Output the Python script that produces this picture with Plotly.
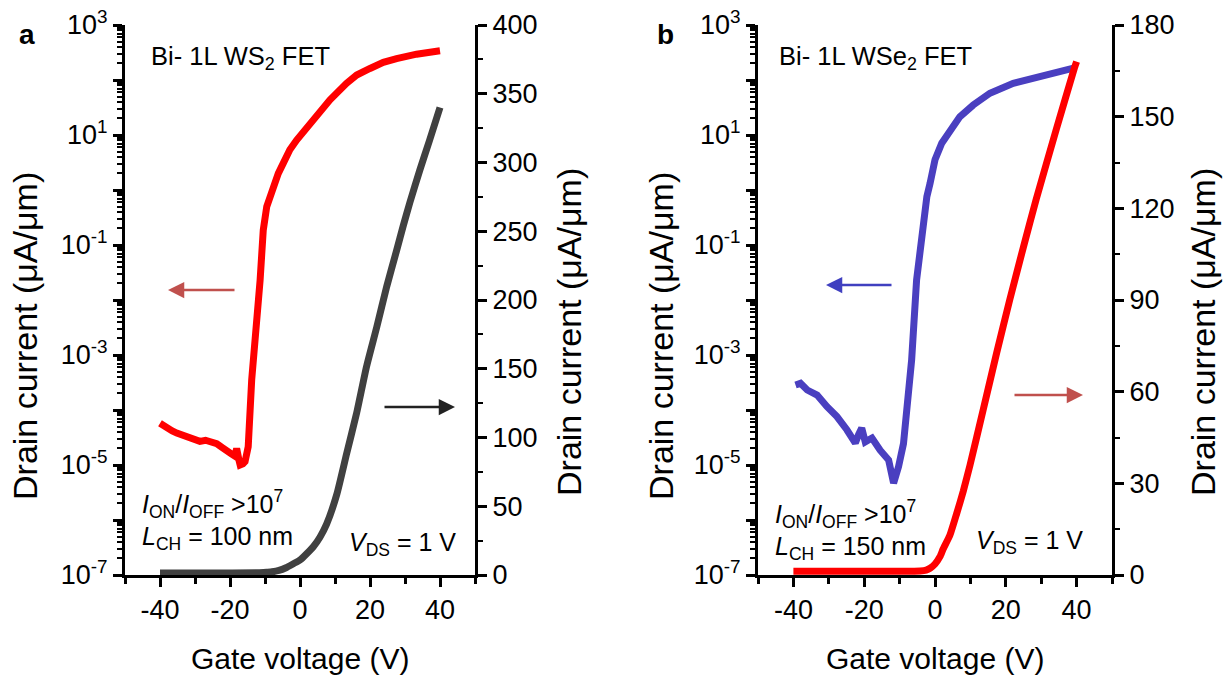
import plotly.graph_objects as go

# ---------------- data ----------------
# Panel a: Bi-contacted 1L WS2 FET
va_log = [-40, -38.1, -36.5, -35.2, -33.5, -31.4, -30, -28.6, -27, -25.7, -23.8, -22.3, -20.9,
          -19.5, -18.6, -18.1, -17.4, -17.1, -16.3, -15.7, -14.8, -13.8, -11.4, -10.95, -10.5,
          -9.5, -7.6, -6.2, -4.8, -2.9, -0.95, 0.95, 2.86, 5.7, 8.57, 13.3, 16.2, 20, 23.8, 27.6,
          33.3, 40]
ia_log = [5.75e-5, 4.68e-5, 4.17e-5, 3.8e-5, 3.47e-5, 3.24e-5, 3.02e-5, 2.69e-5, 2.82e-5, 2.63e-5,
          2.45e-5, 2.09e-5, 1.74e-5, 1.58e-5, 1.45e-5, 2.0e-5, 1.2e-5, 1.0e-5, 1.05e-5, 1.15e-5,
          2.14e-5, 3.55e-4, 0.0229, 0.0617, 0.186, 0.50, 1.15, 2.0, 3.05, 5.4, 8.1, 11.5, 16.2,
          26.3, 43.6, 87.1, 123, 162, 209, 245, 295, 339]

va_lin = [-40, -30, -20, -12, -9.5, -8, -6, -4, -1.9, 0, 1.9, 3.8, 5.7, 7.6, 10.5, 13.3, 16.2,
          19, 21.9, 24.8, 27.6, 29.5, 31.4, 34.3, 37, 40]
ia_lin = [1.5, 1.5, 1.5, 1.6, 2.0, 2.3, 3.3, 5.3, 8.2, 10.9, 15.5, 20.6, 27.5, 37.0, 58.5,
          88.0, 118, 151.5, 180, 210, 236, 254, 271, 295, 316, 340]

# Panel b: Bi-contacted 1L WSe2 FET
vb_log = [-39.4, -38, -36.1, -33.3, -30.5, -27.7, -24.9, -22.5, -21.6, -20.7, -19.7, -17.8,
          -15.5, -13.1, -11.7, -10.3, -8.9, -8.0, -6.6, -5.2, -4.2, -3.3, -2.3, -1.4, 0, 1.9,
          4.2, 7.0, 10.8, 15.5, 22.1, 29.6, 39.4]
ib_log = [2.85e-4, 3.05e-4, 2.31e-4, 1.87e-4, 1.15e-4, 7.59e-5, 4.37e-5, 2.51e-5, 3.55e-5,
          4.68e-5, 2.63e-5, 3.09e-5, 1.86e-5, 1.23e-5, 4.68e-6, 9.33e-6, 2.45e-5, 1.0e-4, 8.13e-4,
          0.0231, 0.0933, 0.324, 0.76, 1.32, 3.55, 7.08, 12.3, 21.4, 35.1, 57.5, 87.1, 117, 166]

vb_lin = [-40, -30, -20, -10, -4.2, -2.5, -1.4, 0, 1.4, 2.3, 4.2, 6.1, 8, 9.9, 13.6, 17.4,
          21.1, 24.9, 28.6, 34.3, 39.4, 40]
ib_lin = [1.2, 1.2, 1.2, 1.2, 1.3, 1.6, 2.2, 3.6, 6.0, 8.5, 13, 20, 27.5, 36, 54, 72.6,
          90, 107, 123, 146, 166, 168]

x_ticks = [-40, -20, 0, 20, 40]
x_ticktext = ["-40", "-20", "0", "20", "40"]
log_exps = list(range(-7, 4))
log_tickvals = [10.0 ** k for k in log_exps]
log_ticktext = [f"10<sup>{k}</sup>" if (k - 3) % 2 == 0 else "" for k in log_exps]
log_minor = [m * 10.0 ** k for k in range(-7, 3) for m in range(2, 10)]

# ---------------- figure ----------------
W, H = 1223, 676
FONT = "Liberation Sans, Arial, sans-serif"


def px_x(p):
    return p / W


def px_y(p):
    return 1 - p / H


dom_xa = [px_x(125), px_x(475)]
dom_xb = [px_x(758), px_x(1112)]
dom_y = [px_y(575), px_y(25)]

fig = go.Figure()
fig.add_trace(go.Scatter(x=va_log, y=ia_log, xaxis="x", yaxis="y", mode="lines",
                         line=dict(color="#ff0000", width=7), showlegend=False))
fig.add_trace(go.Scatter(x=va_lin, y=ia_lin, xaxis="x", yaxis="y2", mode="lines",
                         line=dict(color="#404040", width=7, shape="spline", smoothing=0.5),
                         showlegend=False))
fig.add_trace(go.Scatter(x=vb_log, y=ib_log, xaxis="x2", yaxis="y3", mode="lines",
                         line=dict(color="#4a3fc0", width=7), showlegend=False))
fig.add_trace(go.Scatter(x=vb_lin, y=ib_lin, xaxis="x2", yaxis="y4", mode="lines",
                         line=dict(color="#ff0000", width=7, shape="spline", smoothing=0.5),
                         showlegend=False))

tickfont = dict(family=FONT, size=27, color="black")
axline = dict(showline=True, linecolor="black", linewidth=3, showgrid=False, zeroline=False,
              ticks="outside", tickcolor="black", tickwidth=3, ticklen=9, tickfont=tickfont,
              automargin=False)


def xaxis(domain, anchor):
    return dict(domain=domain, anchor=anchor, range=[-50, 50], tickmode="array",
                tickvals=x_ticks, ticktext=x_ticktext,
                minor=dict(tickmode="array", tickvals=[-50, -30, -10, 10, 30, 50],
                           ticks="outside", ticklen=6, tickwidth=3, tickcolor="black"),
                **axline)


def xtop(over, anchor):
    return dict(overlaying=over, anchor=anchor, side="top", range=[-50, 50], tickmode="linear",
                tick0=0, dtick=10, showticklabels=False, showline=True, linecolor="black",
                linewidth=3, ticks="outside", ticklen=4, tickwidth=2.5, tickcolor="black",
                showgrid=False, zeroline=False, automargin=False)


def ylog(anchor):
    return dict(type="log", domain=dom_y, anchor=anchor, range=[-7, 3], tickmode="array",
                tickvals=log_tickvals, ticktext=log_ticktext,
                minor=dict(tickmode="array", tickvals=log_minor, ticks="outside", ticklen=5,
                           tickwidth=2, tickcolor="black"),
                **axline)


def ylin(over, anchor, top, step):
    return dict(overlaying=over, anchor=anchor, side="right", range=[0, top], tickmode="linear",
                tick0=0, dtick=step,
                minor=dict(tickmode="linear", tick0=0, dtick=step / 2, ticks="outside",
                           ticklen=5, tickwidth=2, tickcolor="black"),
                **axline)


fig.update_layout(
    template="none",
    width=W, height=H, autosize=False,
    margin=dict(l=0, r=0, t=0, b=0, pad=0, autoexpand=False),
    paper_bgcolor="white", plot_bgcolor="white",
    font=dict(family=FONT, color="black"),
    xaxis=xaxis(dom_xa, "y"),
    xaxis2=xaxis(dom_xb, "y3"),
    xaxis3=xtop("x", "y"),
    xaxis4=xtop("x2", "y3"),
    yaxis=ylog("x"),
    yaxis2=ylin("y", "x", 400, 50),
    yaxis3=ylog("x2"),
    yaxis4=ylin("y3", "x2", 180, 30),
)

ann = []


def text(xp, yp, s, size, anchor="left", angle=0, bold=False):
    ann.append(dict(x=px_x(xp), y=px_y(yp), xref="paper", yref="paper", text=s,
                    showarrow=False, xanchor=anchor, yanchor="middle", textangle=angle,
                    align="left",
                    font=dict(family=FONT, size=size, color="black",
                              weight="bold" if bold else "normal")))


text(27, 34, "a", 28, "center", bold=True)
text(665, 34, "b", 28, "center", bold=True)
text(149, 58, "Bi- 1L WS<sub>2</sub> FET", 25.5)
text(777, 58, "Bi- 1L WSe<sub>2</sub> FET", 25.5)

ratio = "<i>I</i><sub>ON</sub>/<i>I</i><sub>OFF</sub> >10<sup>7</sup>"
text(140, 520, ratio + "<br><i>L</i><sub>CH</sub> = 100 nm", 25)
text(347, 544, "<i>V</i><sub>DS</sub> = 1 V", 25)
text(773, 530, ratio + "<br><i>L</i><sub>CH</sub> = 150 nm", 25)
text(974, 542, "<i>V</i><sub>DS</sub> = 1 V", 25)

ytitle = "Drain current (μA/μm)"
text(300, 658, "Gate voltage (V)", 30, "center")
text(935, 658, "Gate voltage (V)", 30, "center")
text(25, 336, ytitle, 34, "center", angle=-90)
text(569, 332, ytitle, 34, "center", angle=-90)
text(661, 336, ytitle, 34, "center", angle=-90)
text(1203, 332, ytitle, 34, "center", angle=-90)


def arrow(x_head, y_head, dx, color):
    ann.append(dict(x=px_x(x_head), y=px_y(y_head), xref="paper", yref="paper", text="",
                    showarrow=True, ax=dx, ay=0, axref="pixel", ayref="pixel",
                    arrowhead=2, arrowsize=1.3, arrowwidth=2.5, arrowcolor=color,
                    standoff=0, startstandoff=0))


arrow(168, 290, 68, "#c0504d")
arrow(455, 407, -72, "#222222")
arrow(826, 285, 67, "#4040c0")
arrow(1083, 395, -70, "#c0504d")

fig.update_layout(annotations=ann)

fig.write_html("out.html", config={"displayModeBar": False},
               post_script="document.body.style.margin='0';")
